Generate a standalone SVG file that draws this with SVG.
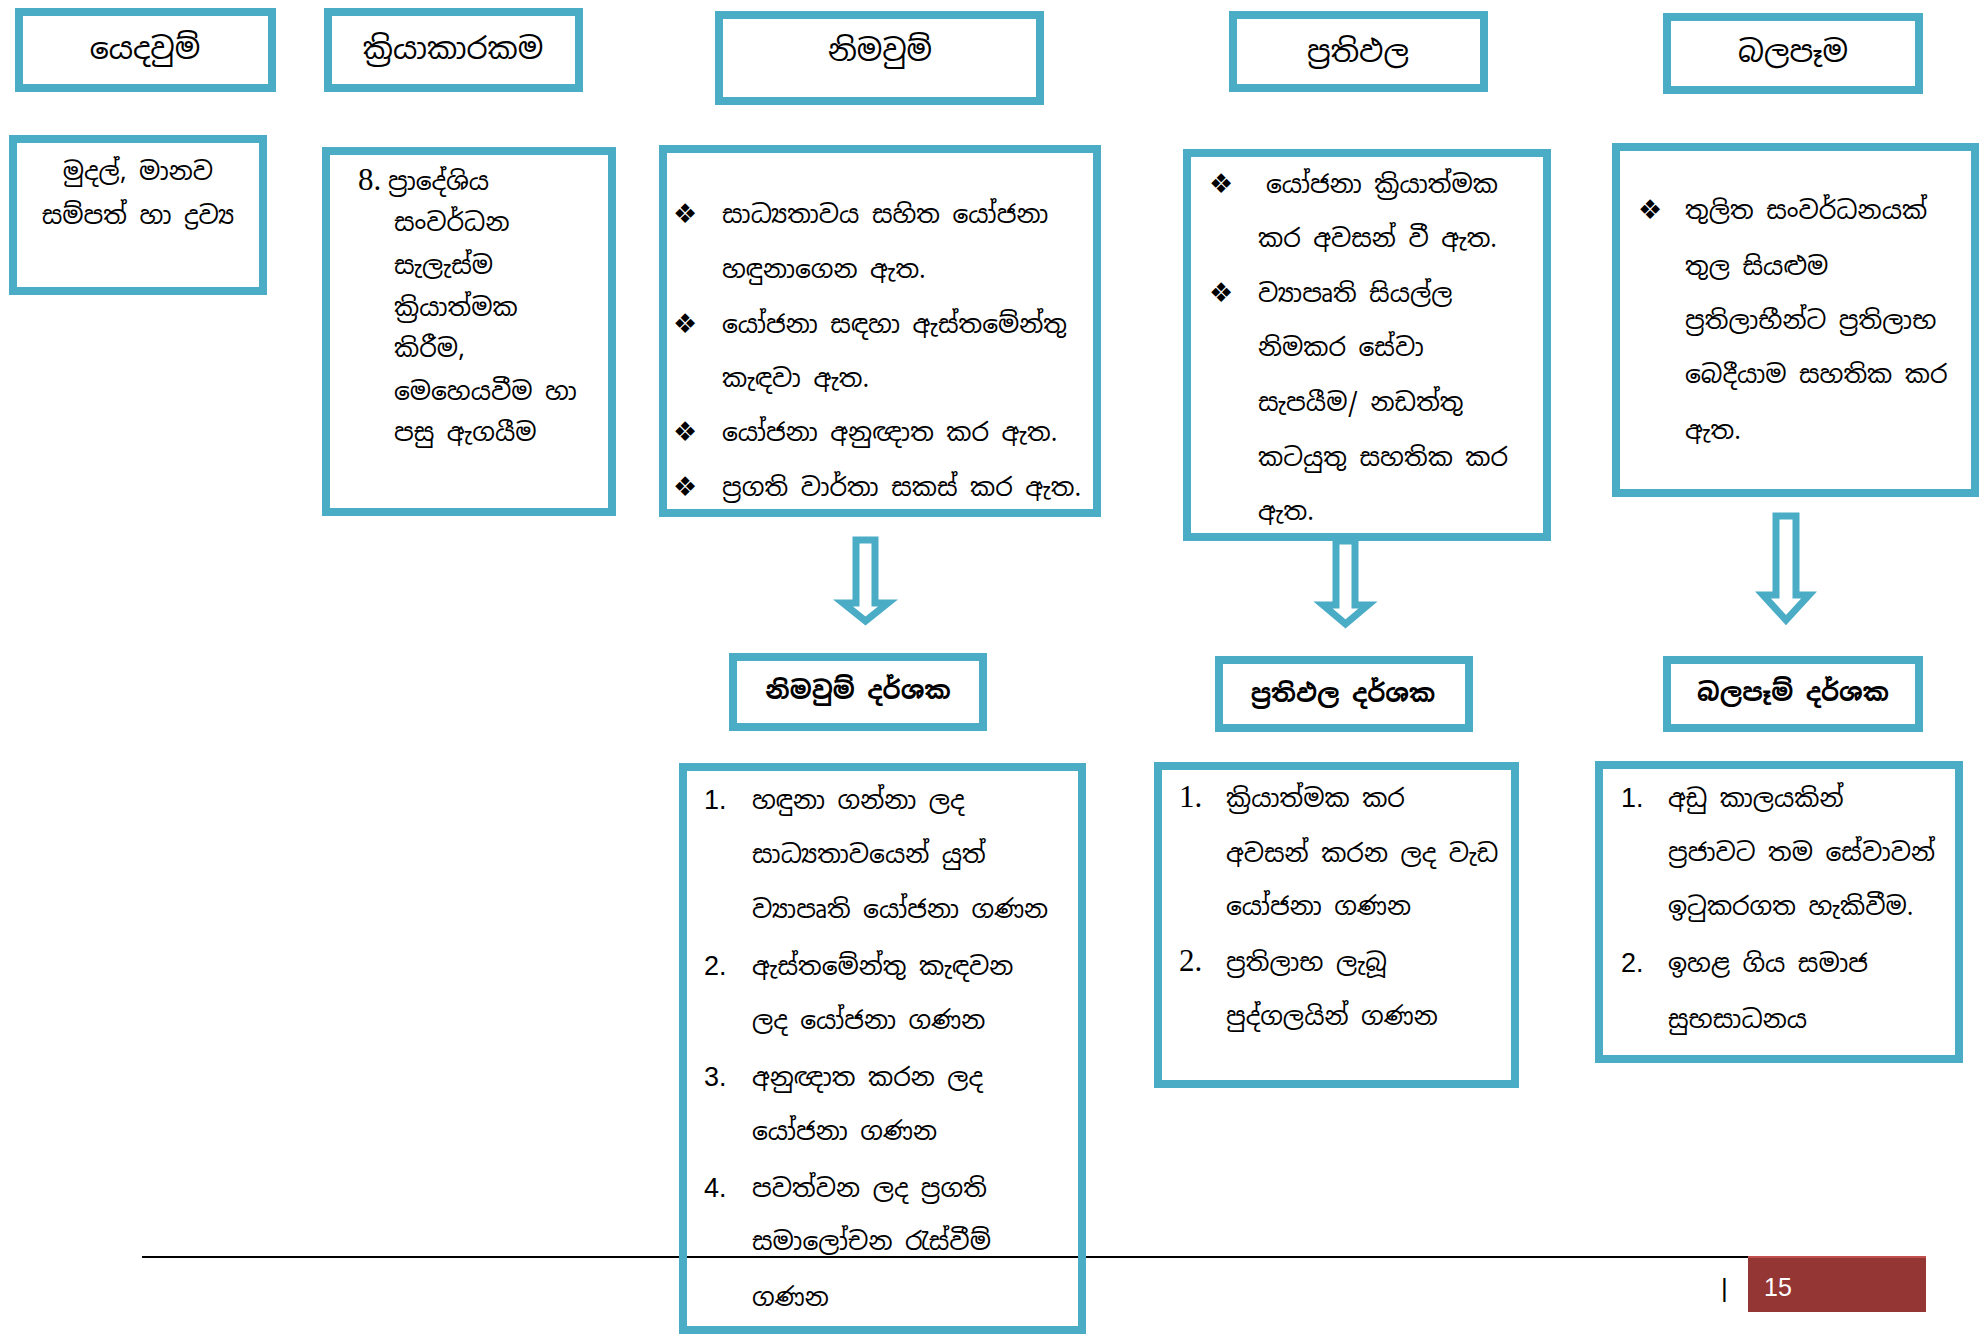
<svg xmlns="http://www.w3.org/2000/svg" width="1982" height="1334" viewBox="0 0 1982 1334">
<style>
.box{fill:none;stroke:#4BACC6;stroke-width:8}
.arrow{fill:#fff;stroke:#4BACC6;stroke-width:7;stroke-linejoin:miter}
.si{font-family:'Iskoola Pota','Noto Sans Sinhala','Noto Serif Sinhala','Noto Sans',sans-serif;font-size:25px;fill:#000}
.hd{font-size:30px;text-anchor:middle}
.hb{font-size:25px;font-weight:bold;text-anchor:middle}
.c{text-anchor:middle}
.bul{font-family:'DejaVu Sans',sans-serif;font-size:27px;fill:#000}
.ns{font-family:'Liberation Sans',Arial,sans-serif;font-size:27px;fill:#000}
.nr{font-family:'Liberation Serif','Times New Roman',serif;font-size:31px;fill:#000}
</style>
<rect width="1982" height="1334" fill="#fff"/>

<g id="footer">
<line x1="142" y1="1257" x2="1748" y2="1257" stroke="#000" stroke-width="2"/>
<rect x="1748" y="1256" width="178" height="56" fill="#943634"/>
<line x1="1748" y1="1257" x2="1926" y2="1257" stroke="#C0504D" stroke-width="2"/>
<text x="1764" y="1296" font-family="'Liberation Sans',Arial,sans-serif" font-size="25" fill="#fff">15</text>
<text x="1721" y="1297" font-family="'Liberation Sans',Arial,sans-serif" font-size="26" fill="#000">|</text>
</g>

<g id="inputs-head">
<rect class="box" x="19" y="12" width="253" height="76"/>
<text class="si hd" x="145" y="59">යෙදවුම්</text>
</g>
<g id="activities-head">
<rect class="box" x="328" y="12" width="251" height="76"/>
<text class="si hd" x="453" y="59">ක්‍රියාකාරකම</text>
</g>
<g id="outputs-head">
<rect class="box" x="719" y="15" width="321" height="86"/>
<text class="si hd" x="880" y="61">නිමවුම්</text>
</g>
<g id="outcomes-head">
<rect class="box" x="1233" y="15" width="251" height="73"/>
<text class="si hd" x="1358" y="62">ප්‍රතිඵල</text>
</g>
<g id="impact-head">
<rect class="box" x="1667" y="17" width="252" height="73"/>
<text class="si hd" x="1793" y="62">බලපෑම</text>
</g>

<g id="inputs-body">
<rect class="box" x="13" y="139" width="250" height="152"/>
<text class="si c" x="138" y="180">මුදල්,  මානව</text>
<text class="si c" x="138" y="224">සම්පත් හා ද්‍රව්‍ය</text>
</g>

<g id="activities-body">
<rect class="box" x="326" y="151" width="286" height="361"/>
<text class="nr" x="358" y="190">8.</text>
<text class="si" x="388" y="190">ප්‍රාදේශිය</text>
<text class="si" x="394" y="231">සංවර්ධන</text>
<text class="si" x="394" y="274">සැලැස්ම</text>
<text class="si" x="394" y="316">ක්‍රියාත්මක</text>
<text class="si" x="394" y="357">කිරීම,</text>
<text class="si" x="394" y="400">මෙහෙයවීම හා</text>
<text class="si" x="394" y="441">පසු ඇගයීම</text>
</g>

<g id="outputs-body">
<rect class="box" x="663" y="149" width="434" height="364"/>
<text class="bul" x="673" y="223">❖</text>
<text class="si" x="722" y="223">සාධ්‍යතාවය සහිත යෝජනා</text>
<text class="si" x="722" y="278">හඳුනාගෙන ඇත.</text>
<text class="bul" x="673" y="333">❖</text>
<text class="si" x="722" y="333">යෝජනා සඳහා ඇස්තමේන්තු</text>
<text class="si" x="722" y="387">කැඳවා ඇත.</text>
<text class="bul" x="673" y="441">❖</text>
<text class="si" x="722" y="441">යෝජනා අනුඥාත කර ඇත.</text>
<text class="bul" x="673" y="496">❖</text>
<text class="si" x="722" y="496">ප්‍රගති වාර්තා සකස් කර ඇත.</text>
</g>

<g id="outcomes-body">
<rect class="box" x="1187" y="153" width="360" height="384"/>
<text class="bul" x="1209" y="193">❖</text>
<text class="si" x="1266" y="193"> යෝජනා ක්‍රියාත්මක</text>
<text class="si" x="1258" y="247">කර අවසන් වී ඇත.</text>
<text class="bul" x="1209" y="302">❖</text>
<text class="si" x="1258" y="302">ව්‍යාපෘති සියල්ල</text>
<text class="si" x="1258" y="356">නිමකර සේවා</text>
<text class="si" x="1258" y="411">සැපයීම/ නඩත්තු</text>
<text class="si" x="1258" y="466">කටයුතු සහතික කර</text>
<text class="si" x="1258" y="520">ඇත.</text>
</g>

<g id="impact-body">
<rect class="box" x="1616" y="147" width="359" height="346"/>
<text class="bul" x="1638" y="219">❖</text>
<text class="si" x="1685" y="219">තුලිත සංවර්ධනයක්</text>
<text class="si" x="1685" y="275">තුල සියළුම</text>
<text class="si" x="1685" y="329">ප්‍රතිලාභීන්ට ප්‍රතිලාභ</text>
<text class="si" x="1685" y="383">බෙදීයාම සහතික කර</text>
<text class="si" x="1685" y="439">ඇත.</text>
</g>

<g id="connectors">
<polygon class="arrow" points="856,540 875,540 875,603 888,603 865.5,621 843,603 856,603"/>
<polygon class="arrow" points="1336,541 1355,541 1355,605 1368,605 1345.5,624 1323,605 1336,605"/>
<polygon class="arrow" points="1776,516 1796,516 1796,595 1809,595 1786,620 1763,595 1776,595"/>
</g>

<g id="outputs-indicators-head">
<rect class="box" x="733" y="657" width="250" height="70"/>
<text class="si hb" x="858" y="699">නිමවුම් දර්ශක</text>
</g>
<g id="outcomes-indicators-head">
<rect class="box" x="1219" y="660" width="250" height="68"/>
<text class="si hb" x="1343" y="702">ප්‍රතිඵල දර්ශක</text>
</g>
<g id="impact-indicators-head">
<rect class="box" x="1667" y="660" width="252" height="68"/>
<text class="si hb" x="1793" y="701">බලපෑම් දර්ශක</text>
</g>

<g id="outputs-indicators">
<rect class="box" x="683" y="767" width="399" height="563"/>
<text class="ns" x="704" y="809">1.</text>
<text class="si" x="752" y="809">හඳුනා ගන්නා ලද</text>
<text class="si" x="752" y="863">සාධ්‍යතාවයෙන් යුත්</text>
<text class="si" x="752" y="918">ව්‍යාපෘති යෝජනා ගණන</text>
<text class="ns" x="704" y="975">2.</text>
<text class="si" x="752" y="975">ඇස්තමේන්තු කැඳවන</text>
<text class="si" x="752" y="1029">ලද යෝජනා ගණන</text>
<text class="ns" x="704" y="1086">3.</text>
<text class="si" x="752" y="1086">අනුඥාත කරන ලද</text>
<text class="si" x="752" y="1140">යෝජනා ගණන</text>
<text class="ns" x="704" y="1197">4.</text>
<text class="si" x="752" y="1197">පවත්වන ලද ප්‍රගති</text>
<text class="si" x="752" y="1250">සමාලෝචන රැස්වීම්</text>
<text class="si" x="752" y="1306">ගණන</text>
</g>

<g id="outcomes-indicators">
<rect class="box" x="1158" y="766" width="357" height="318"/>
<text class="nr" x="1179" y="807">1.</text>
<text class="si" x="1226" y="807">ක්‍රියාත්මක කර</text>
<text class="si" x="1226" y="862">අවසන් කරන ලද වැඩ</text>
<text class="si" x="1226" y="915">යෝජනා ගණන</text>
<text class="nr" x="1179" y="971">2.</text>
<text class="si" x="1226" y="971">ප්‍රතිලාභ ලැබූ</text>
<text class="si" x="1226" y="1025">පුද්ගලයින් ගණන</text>
</g>

<g id="impact-indicators">
<rect class="box" x="1599" y="765" width="360" height="294"/>
<text class="ns" x="1621" y="807">1.</text>
<text class="si" x="1668" y="807">අඩු කාලයකින්</text>
<text class="si" x="1668" y="861">ප්‍රජාවට තම සේවාවන්</text>
<text class="si" x="1668" y="915">ඉටුකරගත හැකිවීම.</text>
<text class="ns" x="1621" y="972">2.</text>
<text class="si" x="1668" y="972">ඉහළ ගිය සමාජ</text>
<text class="si" x="1668" y="1028">සුභසාධනය</text>
</g>
</svg>
